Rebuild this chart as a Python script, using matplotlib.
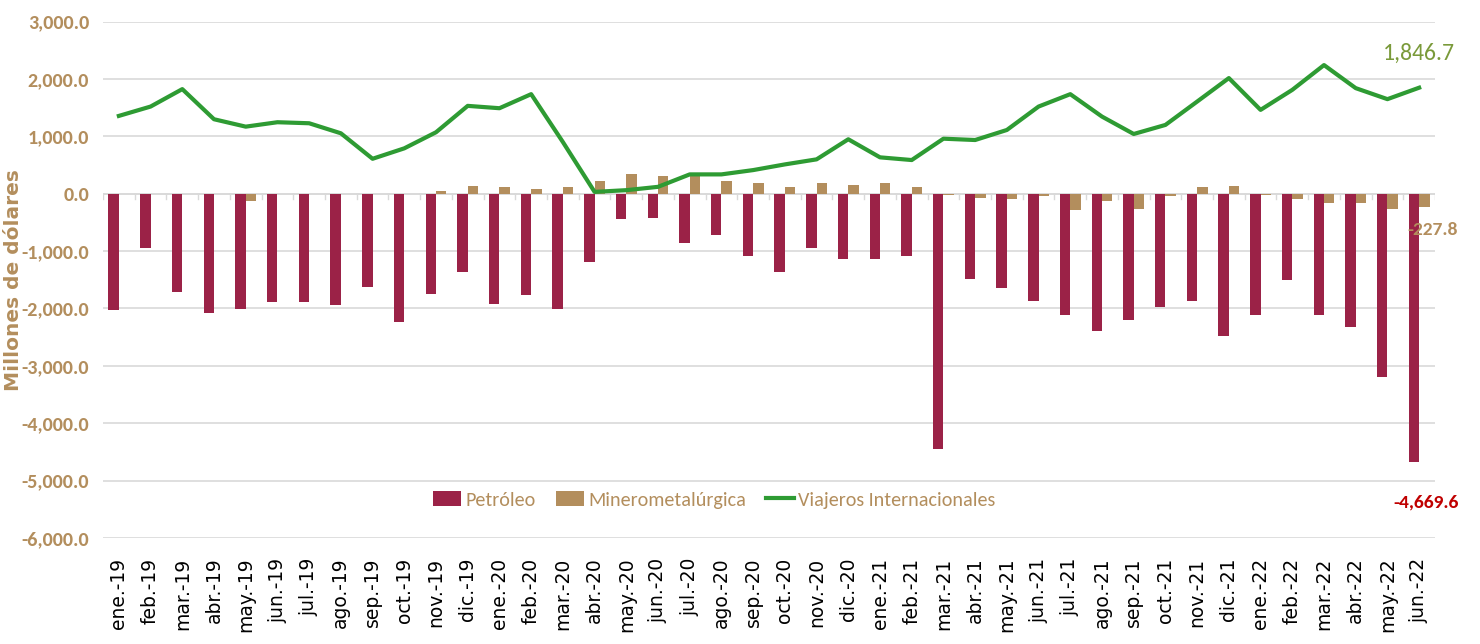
import numpy as np
import matplotlib
matplotlib.use("Agg")
import matplotlib.pyplot as plt

# Month labels
meses = ["ene.-19", "feb.-19", "mar.-19", "abr.-19", "may.-19", "jun.-19", "jul.-19", "ago.-19",
         "sep.-19", "oct.-19", "nov.-19", "dic.-19",
         "ene.-20", "feb.-20", "mar.-20", "abr.-20", "may.-20", "jun.-20", "jul.-20", "ago.-20",
         "sep.-20", "oct.-20", "nov.-20", "dic.-20",
         "ene.-21", "feb.-21", "mar.-21", "abr.-21", "may.-21", "jun.-21", "jul.-21", "ago.-21",
         "sep.-21", "oct.-21", "nov.-21", "dic.-21",
         "ene.-22", "feb.-22", "mar.-22", "abr.-22", "may.-22", "jun.-22"]

# Series (millones de dólares)
petroleo = [-2030, -947, -1717, -2083, -2002, -1890, -1892, -1937, -1629, -2234, -1740, -1367,
            -1914, -1762, -2002, -1192, -446, -423, -860, -713, -1080, -1367, -947, -1145,
            -1145, -1080, -4455, -1495, -1647, -1862, -2107, -2386, -2194, -1972, -1862, -2474,
            -2107, -1512, -2107, -2316, -3203, -4669.6]
minero = [-10, -10, -10, -3, -131, -3, -10, -3, -3, -3, 38, 131,
          108, 79, 108, 219, 346, 306, 300, 219, 189, 108, 189, 149,
          189, 108, -17, -67, -96, -44, -288, -131, -271, -44, 108, 131,
          -15, -96, -154, -154, -271, -227.8]
viajeros = [1355, 1518, 1822, 1297, 1168, 1245, 1227, 1052, 608, 790, 1070, 1530,
            1489, 1734, 900, 31, 61, 119, 336, 336, 411, 510, 598, 948,
            633, 586, 958, 935, 1110, 1518, 1734, 1343, 1040, 1198, 1605, 2014,
            1460, 1809, 2241, 1839, 1647, 1846.7]

c_pet = "#9B2247"
c_min = "#B38E5D"
c_via = "#2E9B33"
calibri = ["Carlito", "DejaVu Sans"]

fig = plt.figure(figsize=(14.8, 6.44), dpi=100)
ax = fig.add_axes([0.0696, 0.1646, 0.9, 0.802])

x = np.arange(len(meses))
w = 0.33
b1 = ax.bar(x - w / 2, petroleo, width=w, color=c_pet, label="Petróleo", zorder=2)
b2 = ax.bar(x + w / 2, minero, width=w, color=c_min, label="Minerometalúrgica", zorder=2)
l1, = ax.plot(x, viajeros, color=c_via, lw=3, label="Viajeros Internacionales", zorder=3)

ax.set_xlim(-0.5, len(meses) - 0.5)
ax.set_ylim(-6000, 3000)
yt = np.arange(-6000, 3001, 1000)
ax.set_yticks(yt)
ax.set_yticklabels([f"{v:,.1f}" for v in yt], color=c_min, fontsize=14.5,
                   fontweight="bold", family=calibri)
ax.grid(axis="y", color="#d9d9d9", lw=1.2, zorder=0)
ax.axhline(0, color="#d9d9d9", lw=1.2, zorder=1)
for b in np.arange(-0.5, len(meses), 1):
    ax.plot([b, b], [0, -90], color="#d9d9d9", lw=1, zorder=1)

ax.set_xticks(x)
ax.set_xticklabels(meses, rotation=90, fontsize=13.5, color="black")
ax.tick_params(axis="x", length=0, pad=14)
ax.tick_params(axis="y", length=0, pad=10)
for s in ax.spines.values():
    s.set_visible(False)

ax.set_ylabel("Millones de dólares", color=c_min, fontsize=14.5, fontweight="bold")
ax.yaxis.set_label_coords(-0.06, 0.50)

# data labels for last month
n = len(meses) - 1
ax.annotate(f"{viajeros[n]:,.1f}", (n, viajeros[n]), xytext=(0, 25), textcoords="offset points",
            ha="center", va="center", color="#7A9A3A", fontsize=17, family=calibri)
ax.annotate(f"{minero[n]:,.1f}", (n + w / 2, minero[n]), xytext=(6, -17), textcoords="offset points",
            ha="center", va="center", color=c_min, fontsize=14, fontweight="bold", family=calibri)
ax.annotate(f"{petroleo[n]:,.1f}", (n - w / 2, petroleo[n]), xytext=(9, -29.5), textcoords="offset points",
            ha="center", va="center", color="#C00000", fontsize=14, fontweight="bold", family=calibri)

leg = ax.legend(handles=[b1, b2, l1], loc="center", bbox_to_anchor=(0.459, 0.074), ncol=3,
                frameon=False, prop={"family": calibri, "size": 14.5}, handlelength=1.4,
                handleheight=0.8, columnspacing=1.0, handletextpad=0.2)
for t in leg.get_texts():
    t.set_color(c_min)

fig.savefig("out.png", dpi=100)
